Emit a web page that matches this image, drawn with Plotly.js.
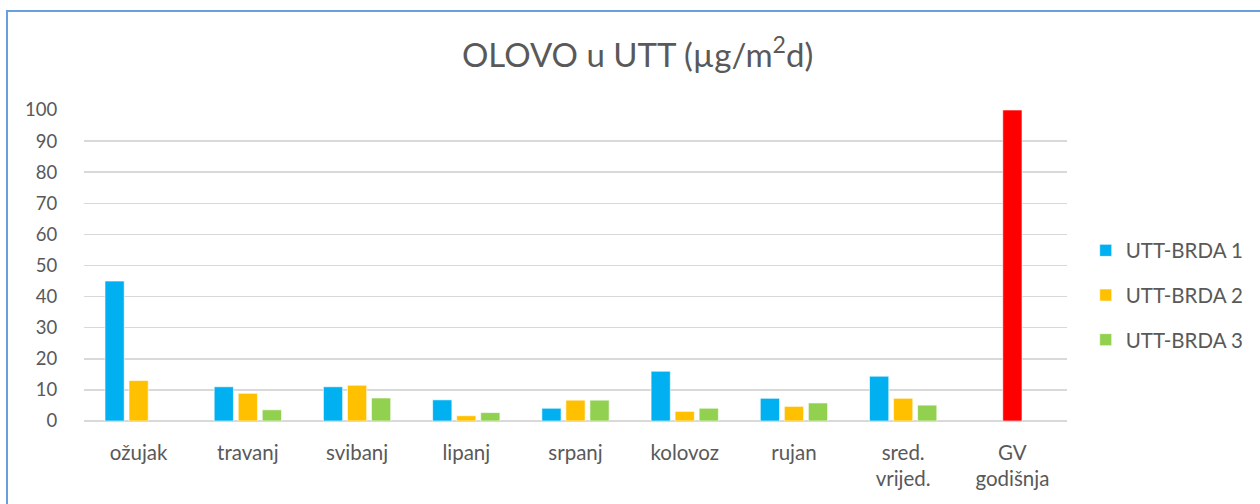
<!DOCTYPE html>
<html>
<head>
<meta charset="utf-8">
<script src="https://cdn.plot.ly/plotly-3.0.1.min.js"></script>
<style>
html,body{margin:0;padding:0;background:#fff;}
#wrap{position:relative;width:1260px;height:504px;overflow:hidden;}
#frame{position:absolute;left:6px;top:10px;width:1300px;height:600px;border-left:2px solid #6a9fdc;border-top:2px solid #6a9fdc;pointer-events:none;z-index:5;}
#chart{position:absolute;left:0;top:0;width:1260px;height:504px;}
</style>
</head>
<body>
<div id="wrap"><div id="chart"></div><div id="frame"></div></div>
<script>
const categories = ['ožujak','travanj','svibanj','lipanj','srpanj','kolovoz','rujan','sred.<br>vrijed.','GV<br>godišnja'];
const brda1 = [45, 11, 11, 6.8, 4.1, 16, 7.3, 14.4, null];
const brda2 = [13, 8.9, 11.5, 1.7, 6.7, 3.1, 4.7, 7.3, 100];
const brda3 = [null, 3.6, 7.4, 2.7, 6.7, 4.1, 5.8, 5.1, null];
const seriesNames = ['UTT-BRDA 1','UTT-BRDA 2','UTT-BRDA 3'];
const colors = ['#00b0f0','#ffc000','#92d050'];
const limitColor = '#ff0000';

const brda2Colors = brda2.map((v,i)=> i === categories.length-1 ? limitColor : colors[1]);

const font = {family:'Lato, "Open Sans", sans-serif', color:'#595959'};

const traces = [
  {type:'bar', name:seriesNames[0], x:categories, y:brda1, marker:{color:colors[0], line:{color:'rgba(255,255,255,0.6)', width:1}}, legendgroup:'a'},
  {type:'bar', name:seriesNames[1], x:categories, y:brda2, marker:{color:brda2Colors, line:{color:'rgba(255,255,255,0.6)', width:1}}, legendgroup:'b'},
  {type:'bar', name:seriesNames[2], x:categories, y:brda3, marker:{color:colors[2], line:{color:'rgba(255,255,255,0.6)', width:1}}, legendgroup:'c'}
];

const layout = {
  width:1260, height:504,
  margin:{l:84, r:192, t:110, b:83},
  paper_bgcolor:'rgba(0,0,0,0)', plot_bgcolor:'#fff',
  font: Object.assign({size:20}, font),
  title:{text:'OLOVO u UTT (µg/m<sup>2</sup>d)', x:0.506, xref:'container', xanchor:'center', y:1-55/504, yref:'container', yanchor:'middle', font:Object.assign({size:33}, font)},
  barmode:'group', bargap:0.34, bargroupgap:0.2,
  xaxis:{type:'category', showline:false, showgrid:false, zeroline:false, ticks:'outside', ticklen:13, tickcolor:'rgba(0,0,0,0)', tickfont:Object.assign({size:20.5}, font)},
  yaxis:{range:[0,100], dtick:10, showgrid:true, gridcolor:'#d9d9d9', gridwidth:1.5, zeroline:true, zerolinecolor:'#d9d9d9', zerolinewidth:1.5, showline:false, ticks:'outside', ticklen:22, tickcolor:'rgba(0,0,0,0)', tickfont:Object.assign({size:18.5}, font)},
  showlegend:true,
  legend:{x:1.018, xanchor:'left', y:0.405, yanchor:'middle', font:Object.assign({size:20.5}, font), tracegroupgap:15, itemwidth:30, bgcolor:'rgba(0,0,0,0)'}
};

Plotly.newPlot('chart', traces, layout, {displayModeBar:false, staticPlot:true});
</script>
</body>
</html>
